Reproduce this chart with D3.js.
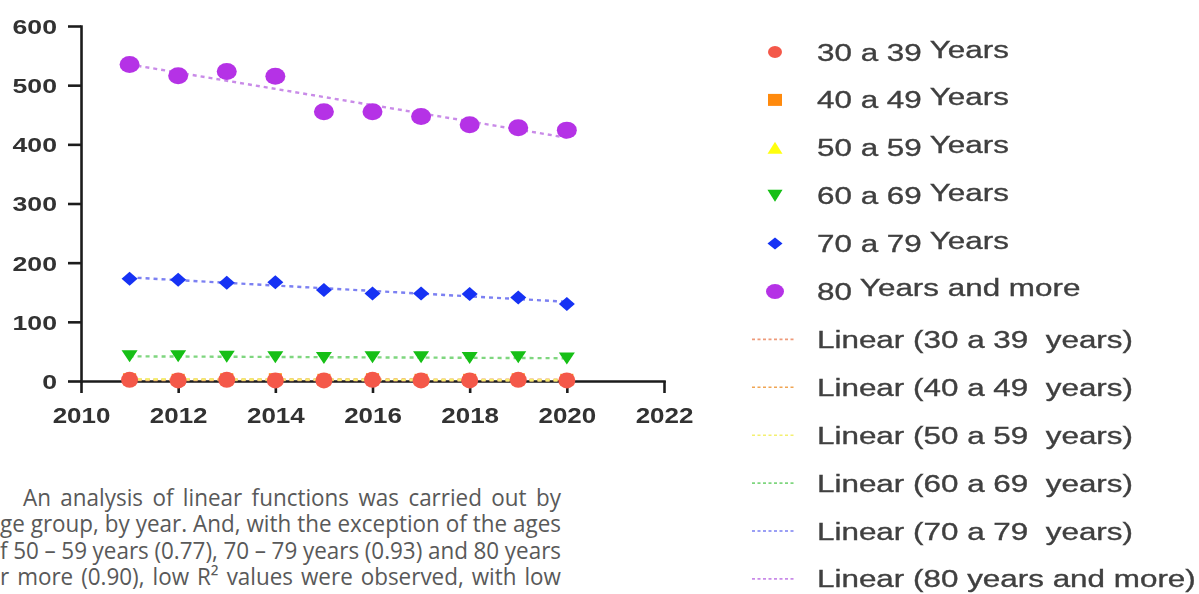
<!DOCTYPE html>
<html>
<head>
<meta charset="utf-8">
<script src="https://cdn.jsdelivr.net/npm/d3@7"></script>
<style>
  html, body { margin: 0; padding: 0; background: #fff; overflow: hidden; }
  svg { display: block; }
</style>
</head>
<body>
<svg id="fig" width="1199" height="594"></svg>
<script>
// ---- data -------------------------------------------------------------
const years = [2011, 2012, 2013, 2014, 2015, 2016, 2017, 2018, 2019, 2020];

const age30to39 = [2, 1, 2, 1, 1, 2, 1, 1, 2, 1];
const age40to49 = [3, 2, 3, 3, 2, 3, 2, 2, 3, 2];
const age50to59 = [3, 3, 3, 2, 2, 2, 2, 2, 1, 1];
const age60to69 = [42, 42, 41, 40, 39, 40, 40, 39, 40, 38];
const age70to79 = [173, 171, 166, 167, 154, 148, 148, 147, 141, 130];
const age80plus = [535, 516, 523, 515, 455, 455, 447, 433, 428, 424];

const groupNumbers = ["30 a 39", "40 a 49", "50 a 59", "60 a 69", "70 a 79", "80"];
const groupSuffixes = ["Years", "Years", "Years", "Years", "Years", "Years and more"];
const trendLabels = [
  "Linear (30 a 39  years)",
  "Linear (40 a 49  years)",
  "Linear (50 a 59  years)",
  "Linear (60 a 69  years)",
  "Linear (70 a 79  years)",
  "Linear (80 years and more)"
];

const xTickValues = [2010, 2012, 2014, 2016, 2018, 2020, 2022];
const yTickValues = [0, 100, 200, 300, 400, 500, 600];

const paragraphLines = [
  "An analysis of linear functions was carried out by",
  "age group, by year. And, with the exception of the ages",
  "of 50 – 59 years (0.77), 70 – 79 years (0.93) and 80 years",
  "or more (0.90), low R² values were observed, with low"
];

// ---- series styling ----------------------------------------------------
const series = [
  { values: age30to39, color: "#f4584a", trend: "#ee9a7a", shape: "circle",   w: 17, h: 16, lw: 14, lh: 12 },
  { values: age40to49, color: "#ff8a0a", trend: "#f0a552", shape: "square",   w: 13, h: 12, lw: 14, lh: 12 },
  { values: age50to59, color: "#ffff10", trend: "#f4f070", shape: "triUp",    w: 12, h: 10, lw: 15, lh: 12 },
  { values: age60to69, color: "#12bf12", trend: "#7fd67f", shape: "triDown",  w: 16, h: 12, lw: 15, lh: 12 },
  { values: age70to79, color: "#1330f4", trend: "#7b80f2", shape: "diamond",  w: 16, h: 14, lw: 15, lh: 12 },
  { values: age80plus, color: "#b533e6", trend: "#c98be8", shape: "circle",   w: 20, h: 17, lw: 18, lh: 15 }
];

function markerPath(shape, w, h) {
  const a = w / 2, b = h / 2;
  switch (shape) {
    case "square":  return `M${-a},${-b}H${a}V${b}H${-a}Z`;
    case "triUp":   return `M0,${-b}L${a},${b}L${-a},${b}Z`;
    case "triDown": return `M${-a},${-b}L${a},${-b}L0,${b}Z`;
    case "diamond": return `M0,${-b}L${a},0L0,${b}L${-a},0Z`;
    default:        return `M${-a},0A${a},${b} 0 1,0 ${a},0A${a},${b} 0 1,0 ${-a},0Z`;
  }
}

// least-squares line through a series
function linearFit(xs, ys) {
  const mx = d3.mean(xs), my = d3.mean(ys);
  const sxy = d3.sum(xs, (v, i) => (v - mx) * (ys[i] - my));
  const sxx = d3.sum(xs, v => (v - mx) * (v - mx));
  const slope = sxy / sxx;
  return v => my + slope * (v - mx);
}

// ---- canvas -----------------------------------------------------------
const svg = d3.select("#fig");
const defs = svg.append("defs");
defs.append("filter").attr("id", "soft")
  .attr("x", "-5%").attr("y", "-5%").attr("width", "110%").attr("height", "110%")
  .append("feGaussianBlur").attr("stdDeviation", 0.55);

const x = d3.scaleLinear().domain([2010, 2022]).range([81, 664]);
const y = d3.scaleLinear().domain([0, 600]).range([381, 26]);

const plot = svg.append("g").attr("filter", "url(#soft)");

// axes
const axisColor = "#1e1e1e";
const yLabelScale = 1.3, xLabelScale = 1.18;

const yAxis = plot.append("g")
  .attr("transform", `translate(${x(2010)},0)`)
  .call(d3.axisLeft(y).tickValues(yTickValues).tickSize(13).tickSizeOuter(0).tickPadding(10));

const xAxis = plot.append("g")
  .attr("transform", `translate(0,${y(0)})`)
  .call(d3.axisBottom(x).tickValues(xTickValues).tickFormat(d3.format("d")).tickSize(12).tickSizeOuter(0));

[yAxis, xAxis].forEach(g => {
  g.select(".domain").attr("stroke", axisColor).attr("stroke-width", 2.6).attr("stroke-linecap", "square");
  g.selectAll(".tick line").attr("stroke", axisColor).attr("stroke-width", 2.6);
  g.selectAll("text")
    .attr("fill", "#303030")
    .attr("font-family", "'Liberation Sans', Arial, sans-serif")
    .attr("font-weight", "bold");
});

yAxis.selectAll("text")
  .attr("font-size", 20.5)
  .attr("x", -24 / yLabelScale)
  .attr("dy", "0.36em")
  .attr("transform", `scale(${yLabelScale},1)`);

xAxis.selectAll("text")
  .attr("font-size", 22)
  .attr("y", 42)
  .attr("dy", 0)
  .attr("transform", `scale(${xLabelScale},1)`);

// trend lines
const trendGroup = plot.append("g");
series.forEach(s => {
  const fit = linearFit(years, s.values);
  trendGroup.append("line")
    .attr("x1", x(years[0])).attr("y1", y(fit(years[0])))
    .attr("x2", x(years[years.length - 1])).attr("y2", y(fit(years[years.length - 1])))
    .attr("stroke", s.trend)
    .attr("stroke-width", 2.4)
    .attr("stroke-dasharray", "4,4");
});

// markers (small groups first so the red circles sit on top of them)
const drawOrder = [2, 1, 0, 3, 4, 5];
drawOrder.forEach(k => {
  const s = series[k];
  plot.append("g").selectAll("path")
    .data(years.map((yr, i) => ({ yr, v: s.values[i] })))
    .join("path")
    .attr("transform", d => `translate(${x(d.yr)},${y(d.v)})`)
    .attr("d", markerPath(s.shape, s.w, s.h))
    .attr("fill", s.color);
});

// ---- legend -----------------------------------------------------------
const legend = svg.append("g").attr("filter", "url(#soft)");
const legendTextScale = 1.32;
const rowBase = 60.5, rowStep = 47.9;
const markerX = 775, textX = 817;
const legendFont = "'Liberation Sans', Arial, sans-serif";
const legendInk = "#3f3f3f";
const legendSize = 23.8;

series.forEach((s, i) => {
  const base = rowBase + i * rowStep;
  legend.append("path")
    .attr("transform", `translate(${markerX},${base - 8.5})`)
    .attr("d", markerPath(s.shape, s.lw, s.lh))
    .attr("fill", s.color);
  const t = legend.append("text")
    .attr("transform", `translate(${textX},${base}) scale(${legendTextScale},1)`)
    .attr("font-family", legendFont)
    .attr("font-size", legendSize)
    .attr("fill", legendInk)
    .attr("stroke", legendInk)
    .attr("stroke-width", 0.35);
  t.append("tspan").text(groupNumbers[i]);
  t.append("tspan").attr("dx", 6).attr("dy", i === 5 ? -4 : -3).text(groupSuffixes[i]);
});

series.forEach((s, i) => {
  const base = rowBase + (i + 6) * rowStep;
  legend.append("line")
    .attr("x1", 752).attr("x2", 795)
    .attr("y1", base - 8.5).attr("y2", base - 8.5)
    .attr("stroke", s.trend)
    .attr("stroke-width", 1.6)
    .attr("stroke-dasharray", "3,2.5");
  legend.append("text")
    .attr("transform", `translate(${textX},${base}) scale(${legendTextScale},1)`)
    .attr("font-family", legendFont)
    .attr("font-size", legendSize)
    .attr("fill", legendInk)
    .attr("stroke", legendInk)
    .attr("stroke-width", 0.35)
    .style("white-space", "pre")
    .text(trendLabels[i]);
});

// ---- body text below the chart -----------------------------------------
// the face is set slightly condensed; justification is done by word spacing
const paraScale = 0.955;
const para = svg.append("g")
  .attr("transform", `scale(${paraScale},1)`)
  .attr("font-family", "'Open Sans', sans-serif")
  .attr("font-size", 23.5)
  .attr("fill", "#595959");

const lineRight = 561, firstIndent = 23, lineTop = 506, lineGap = 26.5;
paragraphLines.forEach((txt, i) => {
  const t = para.append("text").attr("y", lineTop + i * lineGap).text(txt);
  const node = t.node();
  // continuation lines begin just off the left edge, so their first letter is cut
  const startLocal = i === 0 ? firstIndent / paraScale : -node.getSubStringLength(0, 1);
  t.attr("x", startLocal);
  const natural = node.getComputedTextLength();
  const spaces = (txt.match(/ /g) || []).length;
  const target = lineRight / paraScale - startLocal;
  t.attr("word-spacing", (target - natural) / spaces);
});
</script>
</body>
</html>
